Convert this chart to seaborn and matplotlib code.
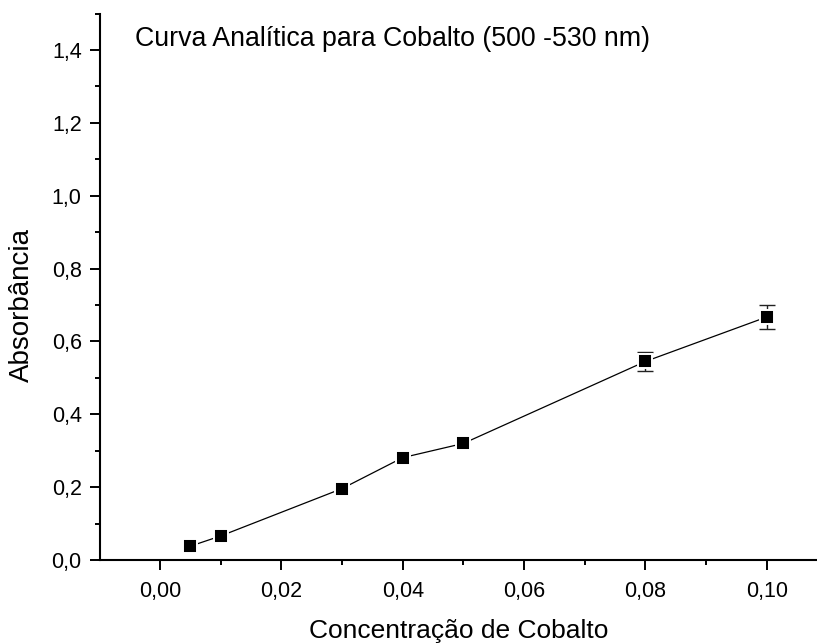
import matplotlib
matplotlib.use("Agg")
import matplotlib.pyplot as plt
from matplotlib.ticker import MultipleLocator, FuncFormatter
import numpy as np
import pandas as pd
import seaborn as sns

# Calibration data: cobalt concentration vs. absorbance (500-530 nm)
concentracao = [0.005, 0.01, 0.03, 0.04, 0.05, 0.08, 0.10]
absorbancia = [0.038, 0.066, 0.196, 0.281, 0.320, 0.545, 0.667]
desvio = [0.0, 0.0, 0.0, 0.0, 0.0, 0.027, 0.033]

titulo = "Curva Analítica para Cobalto (500 -530 nm)"
rotulo_x = "Concentração de Cobalto"
rotulo_y = "Absorbância"

df = pd.DataFrame({"conc": concentracao, "abs": absorbancia, "err": desvio})

sns.set_theme(style="ticks")
plt.rcParams["font.family"] = ["Liberation Sans", "DejaVu Sans"]
plt.rcParams["text.color"] = "black"
plt.rcParams["axes.labelcolor"] = "black"

fig = plt.figure(figsize=(8.17, 6.44), dpi=100)
ax = fig.add_axes([100 / 817, (644 - 560) / 644, 717 / 817, (560 - 13.6) / 644])

# error bars only where a deviation was measured
com_erro = df[df["err"] > 0]
ax.errorbar(com_erro["conc"], com_erro["abs"], yerr=com_erro["err"], fmt="none",
            ecolor="#222222", elinewidth=1.0, capsize=6, capthick=1.0, zorder=2)
sns.lineplot(data=df, x="conc", y="abs", ax=ax, color="black", linewidth=0.9,
             marker="s", markersize=10, markerfacecolor="black",
             markeredgecolor="white", markeredgewidth=1.4, zorder=3)

ax.set_xlim(-0.0099, 0.1083)
ax.set_ylim(0, 1.5)

ax.xaxis.set_major_locator(MultipleLocator(0.02))
ax.xaxis.set_minor_locator(MultipleLocator(0.01))
ax.yaxis.set_major_locator(MultipleLocator(0.2))
ax.yaxis.set_minor_locator(MultipleLocator(0.1))
ax.xaxis.set_major_formatter(FuncFormatter(lambda v, p: f"{v:.2f}".replace(".", ",").replace("-0,00", "0,00")))
ax.yaxis.set_major_formatter(FuncFormatter(lambda v, p: f"{v:.1f}".replace(".", ",")))

for side in ("top", "right"):
    ax.spines[side].set_visible(False)
for side in ("left", "bottom"):
    ax.spines[side].set_linewidth(1.5)
    ax.spines[side].set_color("black")

ax.tick_params(which="major", direction="out", length=7.2, width=1.4,
               labelsize=15.5, colors="black")
ax.tick_params(axis="x", which="major", pad=8)
ax.tick_params(axis="y", which="major", pad=6)
ax.tick_params(which="minor", direction="out", length=3.6, width=1.4, colors="black")

ax.set_xlabel(rotulo_x, fontsize=19, labelpad=12)
ax.set_ylabel(rotulo_y, fontsize=20, labelpad=12)
ax.yaxis.label.set_y(0.467)

fig.text(135 / 817, 1 - 46 / 644, titulo, fontsize=19.3, ha="left", va="baseline")

fig.savefig("out.png", dpi=100, facecolor="white")
